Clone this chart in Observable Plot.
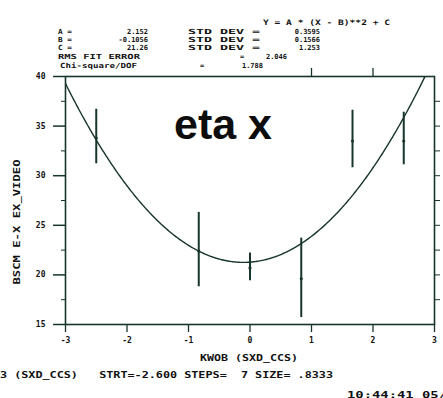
<!DOCTYPE html>
<html>
<head>
<meta charset="utf-8">
<script src="https://cdn.jsdelivr.net/npm/d3@7"></script>
<script src="https://cdn.jsdelivr.net/npm/@observablehq/plot@0.6"></script>
<style>
  html, body { margin: 0; padding: 0; background: #fff; }
  #chart { position: relative; width: 443px; height: 398px; overflow: hidden; }
</style>
</head>
<body>
<div id="chart"></div>
<script>
// ---- data ----
const xPos = [-2.5, -0.8333, 0, 0.8333, 1.6667, 2.5];
const yVal = [33.8, 22.4, 20.7, 19.6, 33.5, 33.5];
const yLo  = [31.2, 18.8, 19.4, 15.7, 30.8, 31.1];
const yHi  = [36.7, 26.3, 22.2, 23.7, 36.6, 36.4];
const fitA = 2.152, fitB = -0.1056, fitC = 21.26;
const xTicks = [-3, -2, -1, 0, 1, 2, 3];
const xTopTicks = [1, 2];
const yTicks = [15, 20, 25, 30, 35, 40];
const yMinor = [17.5, 22.5, 27.5, 32.5, 37.5];
const yRight = [17.5, 20, 22.5, 25, 27.5, 30, 32.5, 35, 37.5];
const header = {
  formula: "Y = A * (X - B)**2 + C",
  names: ["A =", "B =", "C ="],
  values: ["2.152", "-0.1056", "21.26"],
  stdLabel: "STD DEV =",
  stdValues: ["0.3595", "0.1566", "1.253"],
  rmsLabel: "RMS FIT ERROR", rmsValue: "2.046",
  chiLabel: "Chi-square/DOF", chiValue: "1.788"
};
const yLabel = "BSCM E-X EX_VIDEO";
const xLabel = "KWOB (SXD_CCS)";
const footer = "3 (SXD_CCS)   STRT=-2.600 STEPS=  7 SIZE= .8333";
const stamp = "10:44:41 05/";
const title = "eta x";

const ink = "#17352b";
const points = xPos.map((x, i) => ({x, y: yVal[i], lo: yLo[i], hi: yHi[i]}));
const curveX = d3.range(-3, 3.0001, 0.02);
const curve = curveX.map(x => ({x, y: fitA * (x - fitB) ** 2 + fitC}));

const plot = Plot.plot({
  width: 443,
  height: 398,
  marginLeft: 65,
  marginRight: 9,
  marginTop: 76,
  marginBottom: 74,
  x: {domain: [-3, 3]},
  y: {domain: [15, 40]},
  style: {fontFamily: "'DejaVu Sans Mono', monospace", fontWeight: "bold", fontSize: "8px", color: "#111", background: "#fff"},
  marks: [
    Plot.line(curve, {x: "x", y: "y", stroke: ink, strokeWidth: 1.4, clip: true}),
    Plot.ruleX(points, {x: "x", y1: "lo", y2: "hi", stroke: ink, strokeWidth: 2}),
    Plot.dot(points, {x: "x", y: "y", r: 1.6, fill: ink}),
    Plot.frame({stroke: ink, strokeWidth: 1.6}),
    Plot.axisY({ticks: yTicks, tickSize: 12, tickPadding: 8, tickFormat: d => String(d), label: null, stroke: ink, strokeWidth: 1.5}),
    Plot.axisY({ticks: yMinor, tickSize: 4, tickFormat: () => "", label: null, stroke: ink}),
    Plot.axisY({anchor: "right", ticks: yRight, tickSize: 5, tickFormat: () => "", label: null, stroke: ink}),
    Plot.axisX({ticks: xTicks, tickSize: 8, tickPadding: 5, tickFormat: d => String(d), label: null, stroke: ink, strokeWidth: 1.3}),
    Plot.axisX({anchor: "top", ticks: xTopTicks, tickSize: 9, tickFormat: () => "", label: null, stroke: ink, strokeWidth: 1.3})
  ]
});
document.getElementById("chart").appendChild(plot);

// ---- annotation text overlay ----
const svg = d3.select(plot);
const mono = "'DejaVu Sans Mono', monospace";
function txt(s, x, y, opts = {}) {
  const t = svg.append("text")
    .attr("x", x).attr("y", y)
    .attr("font-family", opts.family || mono)
    .attr("font-weight", "bold")
    .attr("font-size", opts.size || 8.5)
    .attr("fill", opts.fill || "#111")
    .attr("text-anchor", opts.anchor || "start")
    .attr("dominant-baseline", "middle")
    .text(s);
  if (opts.len) t.attr("textLength", opts.len).attr("lengthAdjust", "spacingAndGlyphs");
  if (opts.rotate) t.attr("transform", `rotate(${opts.rotate},${x},${y})`);
  return t;
}
const hs = 7;
txt(header.formula, 263, 23, {len: 127, size: 7.5});
const rowsY = [32, 40, 48];
header.names.forEach((n, i) => {
  txt(n, 58, rowsY[i], {len: 14, size: hs});
  txt(header.values[i], 148, rowsY[i], {anchor: "end", size: hs});
  txt(header.stdLabel, 188, rowsY[i], {len: 72, size: hs});
  txt(header.stdValues[i], 320, rowsY[i], {anchor: "end", size: hs});
});
txt(header.rmsLabel, 58, 57, {len: 82, size: hs});
txt("=", 242, 57, {anchor: "middle", size: hs});
txt(header.rmsValue, 287, 57, {anchor: "end", size: hs});
txt(header.chiLabel, 60, 66, {len: 77, size: hs});
txt("=", 202, 66, {anchor: "middle", size: hs});
txt(header.chiValue, 263, 66, {anchor: "end", size: hs});

txt(title, 223, 128, {family: "'Liberation Sans', Arial, sans-serif", size: 43, anchor: "middle", fill: "#0d0d0d"});
txt(yLabel, 17, 222, {anchor: "middle", rotate: -90, len: 125});
txt(xLabel, 249, 358, {anchor: "middle", len: 98});
txt(footer, 0, 375, {len: 333});
txt(stamp, 347, 395, {len: 100});
</script>
</body>
</html>
